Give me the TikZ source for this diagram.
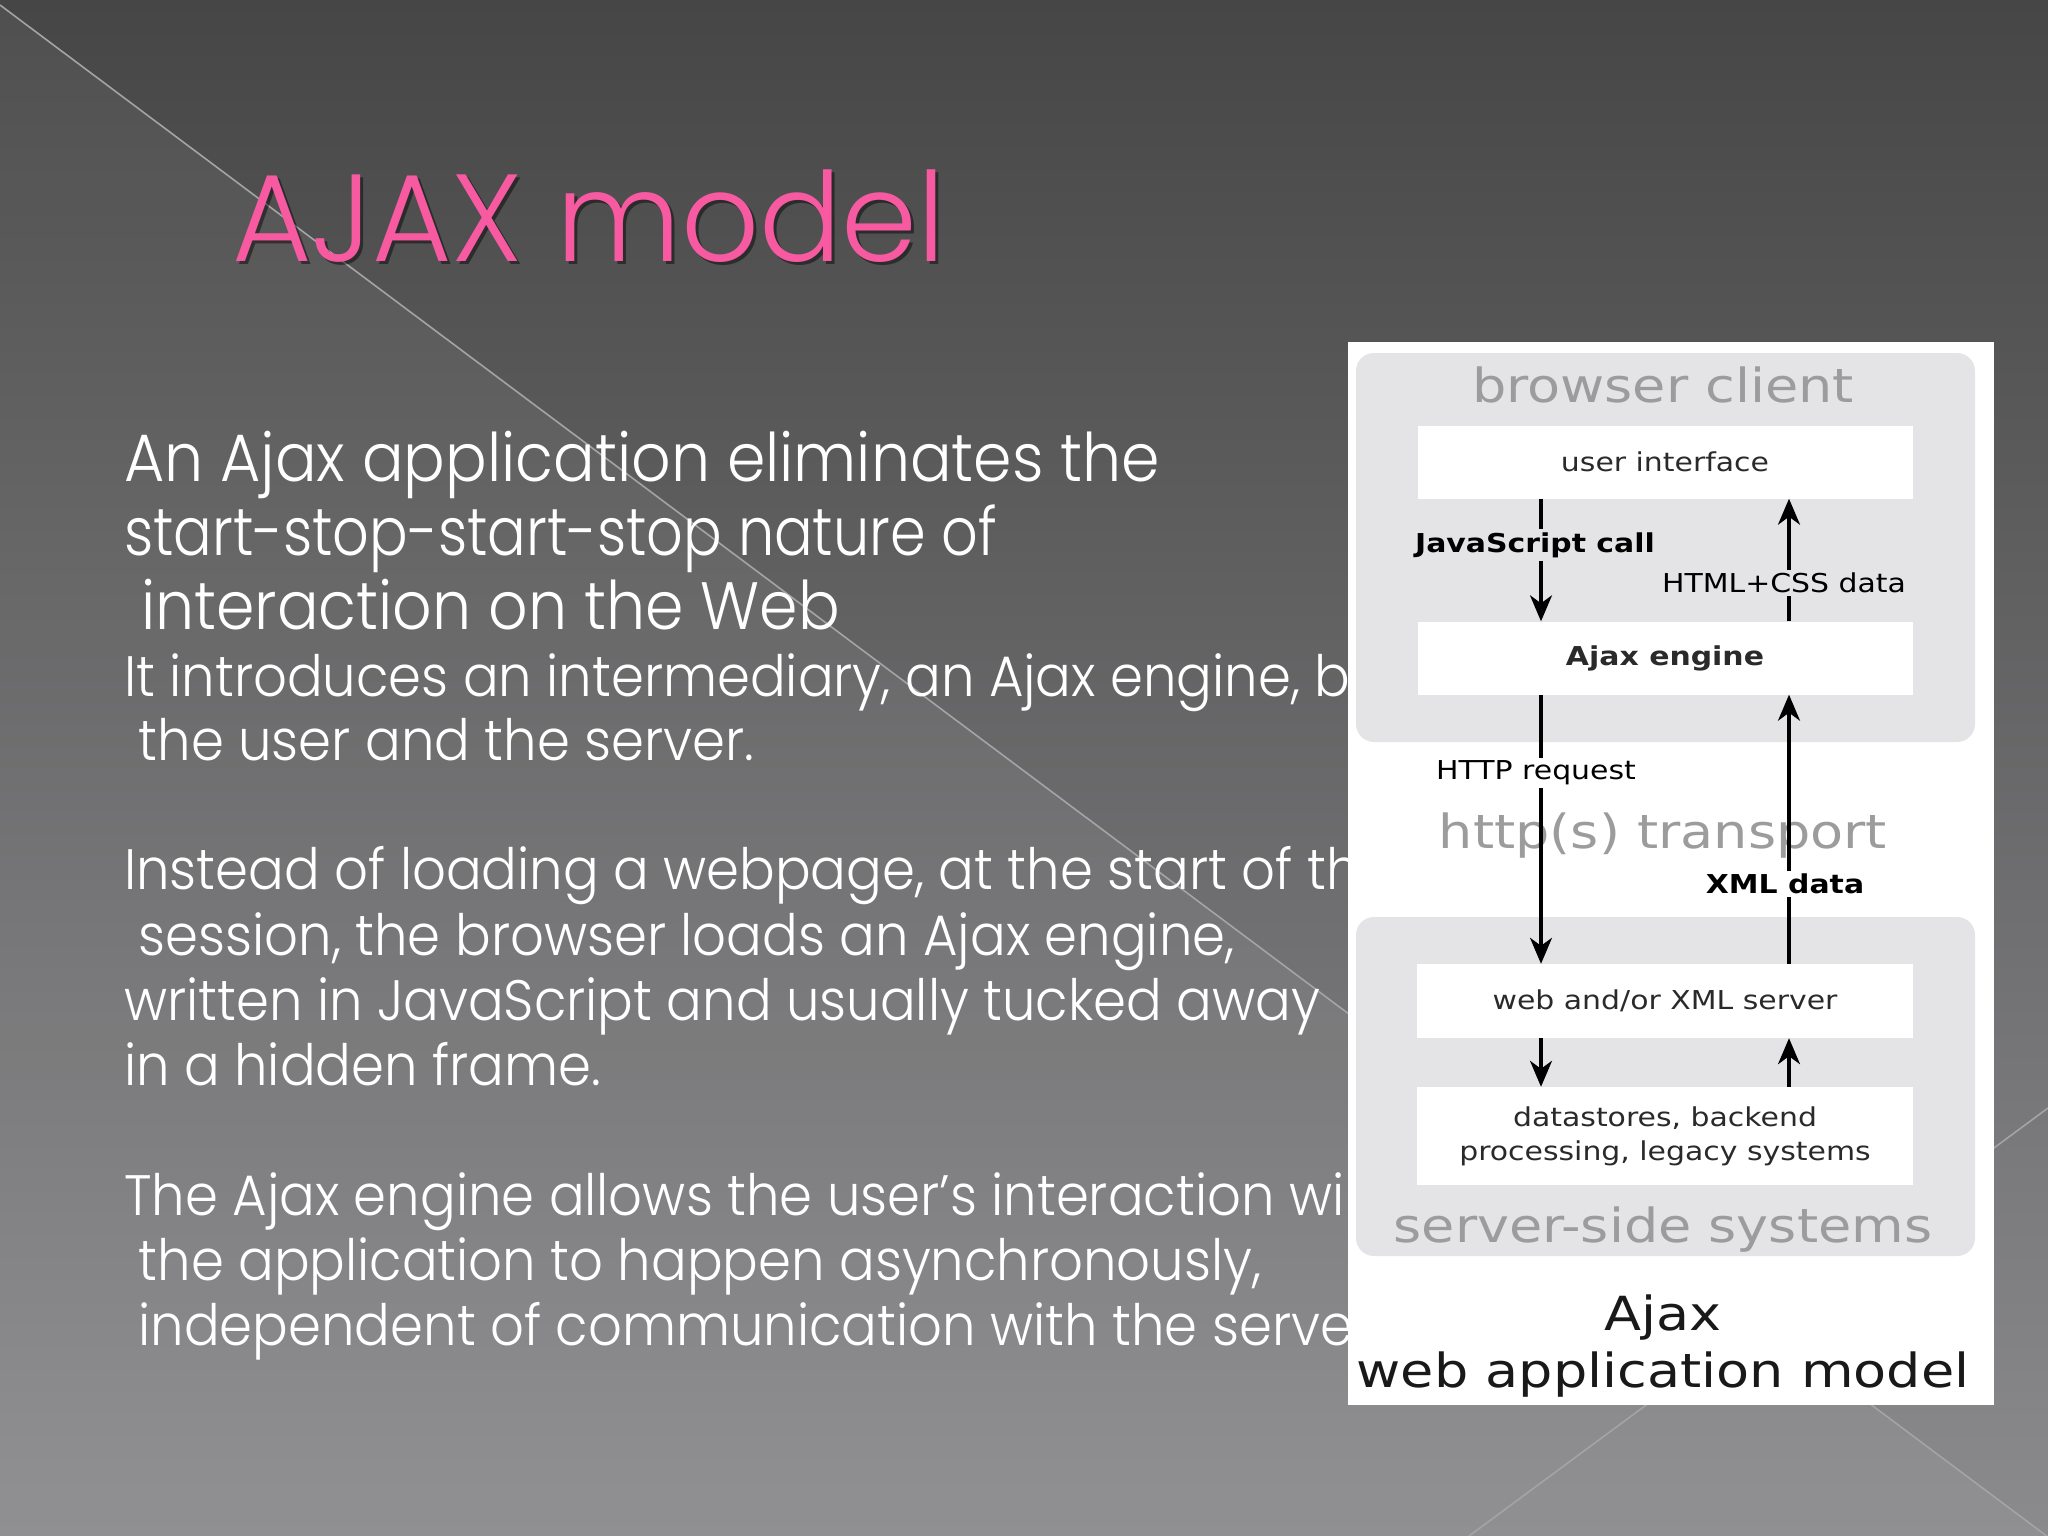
\documentclass[tikz,border=0pt]{standalone}
\usepackage{fontspec}
\usepackage{graphicx}
\IfFontExistsTF{Poppins Light}{\setmainfont{Poppins Light}}{\setmainfont{Poppins}}
\newfontfamily\dvsans{DejaVu Sans}
\usetikzlibrary{arrows.meta}
\definecolor{bgtop}{HTML}{464646}
\definecolor{bgmid}{HTML}{5D5C5F}
\definecolor{bgbot}{HTML}{8B8A8D}
\definecolor{titlepink}{HTML}{F75AA0}
\definecolor{graybox}{HTML}{E4E4E6}
\definecolor{graytext}{HTML}{9C9C9C}
\definecolor{darktext}{HTML}{2A2A2A}
\definecolor{slideline}{HTML}{A4A4A6}
\newcommand{\vsm}[1]{\scalebox{1.15}[1]{\dvsans\fontsize{26}{26}\selectfont #1}}
\newcommand{\vsb}[1]{\scalebox{1.15}[1]{\dvsans\bfseries\fontsize{26}{26}\selectfont #1}}
\newcommand{\vbig}[1]{\scalebox{1.15}[1]{\dvsans\fontsize{47}{47}\selectfont #1}}
\newcommand{\bta}[1]{\scalebox{0.922}[1]{#1}}
\newcommand{\btb}[1]{\scalebox{0.928}[1]{#1}}
\tikzset{
  bodyA/.style={anchor=base west, inner sep=0, text=white, font=\fontsize{67}{67}\selectfont},
  bodyB/.style={anchor=base west, inner sep=0, text=white, font=\fontsize{57}{57}\selectfont},
  whitebox/.style={fill=white, minimum width=495, minimum height=73, inner sep=0, text=darktext},
  graylabel/.style={anchor=base, inner sep=0, text=graytext},
  arrowlabel/.style={inner sep=3, text=black},
  conn/.style={draw=black, line width=3.2, -{Stealth[length=26,width=22,inset=8]}},
}
\begin{document}
\begin{tikzpicture}[x=1pt,y=-1pt]
\useasboundingbox (0,0) rectangle (2048,1536);
% background
\shade[top color=bgtop, middle color=bgmid, bottom color=bgbot] (0,0) rectangle (2048,1536);
\fill[white, opacity=0.05] (0,5) -- (2048,1537) -- (0,1537) -- cycle;
\draw[slideline, line width=1.6] (0,5) -- (2048,1537);
\draw[slideline, line width=1.6] (1469,1536) -- (2048,1108);
% title
\node[anchor=base west, inner sep=0, text=black, opacity=0.45, font=\fontsize{124}{124}\selectfont] (titleshadow) at (235,264) {\scalebox{0.983}[1]{AJAX model}};
\node[anchor=base west, inner sep=0, text=titlepink, font=\fontsize{124}{124}\selectfont] (title) at (232,261) {\scalebox{0.983}[1]{AJAX model}};
% body text
\node[bodyA] (t1) at (124,481) {\bta{An Ajax application eliminates the}};
\node[bodyA] (t2) at (124,555) {\scalebox{0.855}[1]{start-stop-start-stop nature of}};
\node[bodyA] (t3) at (124,629) {\bta{\ interaction on the Web}};
\node[bodyB] (t4) at (124,696) {\btb{It introduces an intermediary, an Ajax engine, b}};
\node[bodyB] (t5) at (124,760) {\btb{\ the user and the server.}};
\node[bodyB] (t6) at (124,889) {\btb{Instead of loading a webpage, at the start of th}};
\node[bodyB] (t7) at (124,955) {\btb{\ session, the browser loads an Ajax engine,}};
\node[bodyB] (t8) at (124,1020) {\btb{written in JavaScript and usually tucked away}};
\node[bodyB] (t9) at (124,1085) {\btb{in a hidden frame.}};
\node[bodyB] (t10) at (124,1215) {\btb{The Ajax engine allows the user’s interaction wi}};
\node[bodyB] (t11) at (124,1280) {\btb{\ the application to happen asynchronously,}};
\node[bodyB] (t12) at (124,1345) {\btb{\ independent of communication with the serve}};
% panel
\fill[white] (1348,342) rectangle (1994,1405);
\fill[graybox, rounded corners=18] (1356,353) rectangle (1975,742);
\fill[graybox, rounded corners=18] (1356,917) rectangle (1975,1256);
\node[graylabel] (bc) at (1663,402) {\vbig{browser client}};
\node[graylabel] (ht) at (1663,848) {\vbig{http(s) transport}};
\node[graylabel] (ss) at (1663,1242) {\vbig{server-side systems}};
\node[anchor=base, inner sep=0, text=black!90] (ajx) at (1663,1330) {\vbig{Ajax}};
\node[anchor=base, inner sep=0, text=black!90] (wam) at (1663,1387) {\vbig{web application model}};
% boxes
\node[whitebox] (ui) at (1665,462) {\vsm{user interface}};
\node[whitebox] (ae) at (1665,658) {\vsb{Ajax engine}};
\node[whitebox, minimum width=496, minimum height=74] (ws) at (1665,1001) {\vsm{web and/or XML server}};
\node[whitebox, minimum width=496, minimum height=98, align=center, font=\fontsize{26}{34}\selectfont] (ds) at (1665,1136) {\vsm{datastores, backend}\\\vsm{processing, legacy systems}};
% connectors
\coordinate (L) at (1541,0);
\coordinate (R) at (1789,0);
\draw[conn] (L |- ui.south) -- (L |- ae.north);
\draw[conn] (R |- ae.north) -- (R |- ui.south);
\draw[conn] (L |- ae.south) -- (L |- ws.north);
\draw[conn] (R |- ws.north) -- (R |- ae.south);
\draw[conn] (L |- ws.south) -- (L |- ds.north);
\draw[conn] (R |- ds.north) -- (R |- ws.south);
% connector labels
\node[arrowlabel, fill=graybox] (jsc) at (1535,545) {\vsb{JavaScript call}};
\node[arrowlabel, fill=graybox] (hcd) at (1784,583) {\vsm{HTML+CSS data}};
\node[arrowlabel, fill=white] (hrq) at (1536,773) {\vsm{HTTP request}};
\node[arrowlabel, fill=white] (xmd) at (1785,884) {\vsb{XML data}};
\end{tikzpicture}
\end{document}
